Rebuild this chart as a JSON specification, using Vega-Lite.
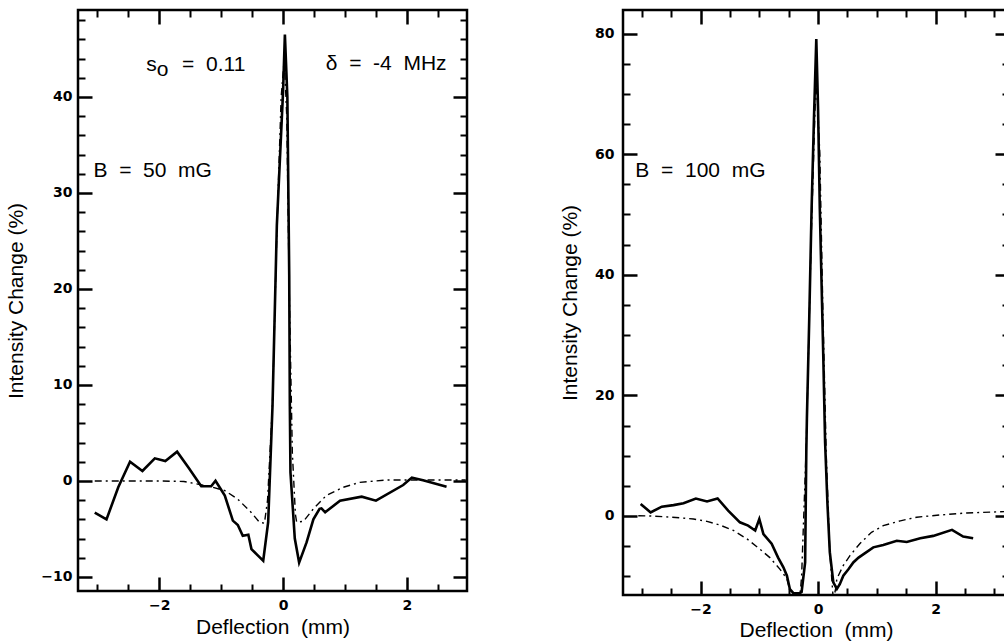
{
  "$schema": "https://vega.github.io/schema/vega-lite/v6.json",
  "padding": {"left": 4, "top": 7, "right": 0, "bottom": 0},
  "autosize": {"type": "pad"},
  "background": "white",
  "config": {
    "view": {"stroke": "black", "strokeWidth": 2.5},
    "axis": {"grid": false, "domain": false, "tickColor": "black", "labelColor": "black", "titleColor": "black", "labelFont": "DejaVu Sans", "labelFontWeight": "bold", "labelFontSize": 14, "titleFont": "Liberation Sans", "titleFontSize": 21, "titleFontWeight": "normal"},
    "text": {"font": "Liberation Sans", "fontSize": 21, "color": "black"}
  },
  "datasets": {
    "exp50": [
      {"x": -3.04, "y": -3.3}, {"x": -2.85, "y": -4.0}, {"x": -2.66, "y": -0.66}, {"x": -2.47, "y": 2.0}, {"x": -2.27, "y": 1.04}, {"x": -2.07, "y": 2.36}, {"x": -1.9, "y": 2.08}, {"x": -1.71, "y": 3.05}, {"x": -1.53, "y": 1.42}, {"x": -1.32, "y": -0.55}, {"x": -1.16, "y": -0.55}, {"x": -1.09, "y": 0.03}, {"x": -0.94, "y": -1.53}, {"x": -0.81, "y": -4.13}, {"x": -0.73, "y": -4.58}, {"x": -0.65, "y": -5.7}, {"x": -0.56, "y": -5.6}, {"x": -0.51, "y": -7.1}, {"x": -0.4, "y": -7.8}, {"x": -0.32, "y": -8.3}, {"x": -0.24, "y": -4.3}, {"x": -0.17, "y": 7.8}, {"x": -0.1, "y": 26.6}, {"x": 0.0, "y": 40.5}, {"x": 0.03, "y": 46.5}, {"x": 0.07, "y": 40}, {"x": 0.1, "y": 21.4}, {"x": 0.11, "y": 7.8}, {"x": 0.12, "y": 0.9}, {"x": 0.19, "y": -6.0}, {"x": 0.26, "y": -8.5}, {"x": 0.38, "y": -6.4}, {"x": 0.49, "y": -4.0}, {"x": 0.59, "y": -2.9}, {"x": 0.62, "y": -2.85}, {"x": 0.68, "y": -3.26}, {"x": 0.92, "y": -2.05}, {"x": 1.27, "y": -1.63}, {"x": 1.5, "y": -2.05}, {"x": 1.94, "y": -0.42}, {"x": 2.08, "y": 0.35}, {"x": 2.26, "y": 0.07}, {"x": 2.64, "y": -0.59}
    ],
    "th50": [
      {"x": -3.04, "y": 0}, {"x": -2.5, "y": 0}, {"x": -2.0, "y": 0}, {"x": -1.6, "y": -0.05}, {"x": -1.4, "y": -0.3}, {"x": -1.2, "y": -0.55}, {"x": -0.94, "y": -1.0}, {"x": -0.73, "y": -1.9}, {"x": -0.51, "y": -3.3}, {"x": -0.38, "y": -4.3}, {"x": -0.3, "y": -4.4}, {"x": -0.25, "y": -2}, {"x": -0.17, "y": 8}, {"x": -0.1, "y": 26}, {"x": -0.03, "y": 40}, {"x": 0.02, "y": 44}, {"x": 0.06, "y": 38}, {"x": 0.1, "y": 20}, {"x": 0.15, "y": 3}, {"x": 0.2, "y": -3.5}, {"x": 0.22, "y": -4.3}, {"x": 0.33, "y": -4.2}, {"x": 0.49, "y": -2.9}, {"x": 0.7, "y": -1.5}, {"x": 0.97, "y": -0.66}, {"x": 1.24, "y": -0.14}, {"x": 1.67, "y": 0.1}, {"x": 2.2, "y": 0.1}, {"x": 2.95, "y": 0.1}
    ],
    "exp100": [
      {"x": -3.02, "y": 2.0}, {"x": -2.85, "y": 0.6}, {"x": -2.66, "y": 1.55}, {"x": -2.46, "y": 1.8}, {"x": -2.29, "y": 2.1}, {"x": -2.08, "y": 2.9}, {"x": -1.89, "y": 2.4}, {"x": -1.71, "y": 2.9}, {"x": -1.53, "y": 0.9}, {"x": -1.33, "y": -1.05}, {"x": -1.19, "y": -1.6}, {"x": -1.07, "y": -2.4}, {"x": -1.0, "y": -0.5}, {"x": -0.93, "y": -3.0}, {"x": -0.79, "y": -4.6}, {"x": -0.68, "y": -6.9}, {"x": -0.59, "y": -8.5}, {"x": -0.53, "y": -9.9}, {"x": -0.48, "y": -12.1}, {"x": -0.42, "y": -12.8}, {"x": -0.31, "y": -12.8}, {"x": -0.28, "y": -12.6}, {"x": -0.22, "y": -7.7}, {"x": -0.2, "y": 10.6}, {"x": -0.19, "y": 16.1}, {"x": -0.15, "y": 32.7}, {"x": -0.11, "y": 50.9}, {"x": -0.07, "y": 65.8}, {"x": -0.03, "y": 79.1}, {"x": 0.0, "y": 67.5}, {"x": 0.03, "y": 50.9}, {"x": 0.09, "y": 26}, {"x": 0.12, "y": 12.2}, {"x": 0.16, "y": 2}, {"x": 0.2, "y": -6.0}, {"x": 0.26, "y": -11.0}, {"x": 0.32, "y": -12.1}, {"x": 0.37, "y": -11.3}, {"x": 0.43, "y": -9.9}, {"x": 0.52, "y": -8.8}, {"x": 0.6, "y": -7.7}, {"x": 0.69, "y": -6.9}, {"x": 0.94, "y": -5.2}, {"x": 1.11, "y": -4.8}, {"x": 1.34, "y": -4.1}, {"x": 1.51, "y": -4.3}, {"x": 1.74, "y": -3.7}, {"x": 1.96, "y": -3.3}, {"x": 2.28, "y": -2.3}, {"x": 2.47, "y": -3.4}, {"x": 2.64, "y": -3.7}
    ],
    "th100": [
      {"x": -3.06, "y": 0.05}, {"x": -2.86, "y": 0}, {"x": -2.49, "y": -0.2}, {"x": -2.12, "y": -0.5}, {"x": -1.89, "y": -0.9}, {"x": -1.67, "y": -1.5}, {"x": -1.44, "y": -2.4}, {"x": -1.21, "y": -3.8}, {"x": -0.99, "y": -5.5}, {"x": -0.82, "y": -6.9}, {"x": -0.65, "y": -8.8}, {"x": -0.53, "y": -10.4}, {"x": -0.48, "y": -12.3}, {"x": -0.42, "y": -15}, {"x": -0.35, "y": -18}, {"x": -0.28, "y": -10}, {"x": -0.2, "y": 12}, {"x": -0.12, "y": 45}, {"x": -0.05, "y": 68}, {"x": -0.02, "y": 71}, {"x": 0.03, "y": 60}, {"x": 0.08, "y": 35}, {"x": 0.14, "y": 10}, {"x": 0.2, "y": -6}, {"x": 0.26, "y": -14}, {"x": 0.3, "y": -12}, {"x": 0.32, "y": -10.4}, {"x": 0.43, "y": -8.2}, {"x": 0.54, "y": -6.6}, {"x": 0.71, "y": -4.6}, {"x": 0.91, "y": -2.7}, {"x": 1.11, "y": -1.6}, {"x": 1.4, "y": -0.8}, {"x": 1.68, "y": -0.2}, {"x": 2.08, "y": 0.17}, {"x": 2.53, "y": 0.5}, {"x": 3.1, "y": 0.7}, {"x": 3.25, "y": 0.75}
    ],
    "lab50": [
      {"x": -2.21, "y": 42.7, "t": "s"},
      {"x": -2.04, "y": 42.2, "t": "o"},
      {"x": -1.63, "y": 42.7, "t": "=\u00a0\u00a00.11"},
      {"x": 0.69, "y": 42.8, "t": "δ\u00a0\u00a0=\u00a0\u00a0-4\u00a0\u00a0MHz"},
      {"x": -3.06, "y": 31.7, "t": "B\u00a0\u00a0=\u00a0\u00a050\u00a0\u00a0mG"}
    ],
    "lab100": [
      {"x": -3.11, "y": 56.2, "t": "B\u00a0\u00a0=\u00a0\u00a0100\u00a0\u00a0mG"}
    ]
  },
  "bounds": "flush",
  "spacing": 156,
  "hconcat": [
    {
      "width": 389,
      "height": 581,
      "resolve": {"scale": {"x": "independent", "y": "independent"}},
      "layer": [
        {
          "data": {"name": "exp50"},
          "mark": {"type": "line", "color": "black", "strokeWidth": 2.6, "clip": true},
          "encoding": {
            "x": {"field": "x", "type": "quantitative", "scale": {"domain": [-3.31, 2.97], "nice": false, "zero": false}, "axis": {"orient": "bottom", "values": [-2, 0, 2], "ticks": false, "labelPadding": 7, "title": "Deflection\u00a0\u00a0(mm)", "titlePadding": 4}},
            "y": {"field": "y", "type": "quantitative", "scale": {"domain": [-11.46, 49.06], "nice": false, "zero": false}, "axis": {"orient": "left", "values": [-10, 0, 10, 20, 30, 40], "ticks": false, "labelPadding": 6, "title": "Intensity Change (%)", "titlePadding": 14}}
          }
        },
        {
          "data": {"name": "th50"},
          "mark": {"type": "line", "color": "black", "strokeWidth": 1.4, "strokeDash": [7, 4, 2, 4], "clip": true},
          "encoding": {
            "x": {"field": "x", "type": "quantitative", "scale": {"domain": [-3.31, 2.97], "nice": false, "zero": false}, "axis": {"orient": "bottom", "values": [-2, 0, 2], "labels": false, "tickSize": -14, "tickWidth": 2.5, "title": null}},
            "y": {"field": "y", "type": "quantitative", "scale": {"domain": [-11.46, 49.06], "nice": false, "zero": false}, "axis": {"orient": "left", "values": [-10, 0, 10, 20, 30, 40], "labels": false, "tickSize": -14, "tickWidth": 2.5, "title": null}}
          }
        },
        {
          "data": {"name": "exp50"},
          "mark": {"type": "line", "opacity": 0},
          "encoding": {
            "x": {"field": "x", "type": "quantitative", "scale": {"domain": [-3.31, 2.97], "nice": false, "zero": false}, "axis": {"orient": "bottom", "values": [-3, -2.5, -1.5, -1, -0.5, 0.5, 1, 1.5, 2.5], "labels": false, "tickSize": -7, "tickWidth": 2, "title": null}},
            "y": {"field": "y", "type": "quantitative", "scale": {"domain": [-11.46, 49.06], "nice": false, "zero": false}, "axis": {"orient": "left", "values": [-8, -6, -4, -2, 2, 4, 6, 8, 12, 14, 16, 18, 22, 24, 26, 28, 32, 34, 36, 38, 42, 44, 46, 48], "labels": false, "tickSize": -7, "tickWidth": 2, "title": null}}
          }
        },
        {
          "data": {"name": "exp50"},
          "mark": {"type": "line", "opacity": 0},
          "encoding": {
            "x": {"field": "x", "type": "quantitative", "scale": {"domain": [-3.31, 2.97], "nice": false, "zero": false}, "axis": {"orient": "top", "values": [-2, 0, 2], "labels": false, "tickSize": -14, "tickWidth": 2.5, "title": null}},
            "y": {"field": "y", "type": "quantitative", "scale": {"domain": [-11.46, 49.06], "nice": false, "zero": false}, "axis": {"orient": "right", "values": [-10, 0, 10, 20, 30, 40], "labels": false, "tickSize": -14, "tickWidth": 2.5, "title": null}}
          }
        },
        {
          "data": {"name": "exp50"},
          "mark": {"type": "line", "opacity": 0},
          "encoding": {
            "x": {"field": "x", "type": "quantitative", "scale": {"domain": [-3.31, 2.97], "nice": false, "zero": false}, "axis": {"orient": "top", "values": [-3, -2.5, -1.5, -1, -0.5, 0.5, 1, 1.5, 2.5], "labels": false, "tickSize": -7, "tickWidth": 2, "title": null}},
            "y": {"field": "y", "type": "quantitative", "scale": {"domain": [-11.46, 49.06], "nice": false, "zero": false}, "axis": {"orient": "right", "values": [-8, -6, -4, -2, 2, 4, 6, 8, 12, 14, 16, 18, 22, 24, 26, 28, 32, 34, 36, 38, 42, 44, 46, 48], "labels": false, "tickSize": -7, "tickWidth": 2, "title": null}}
          }
        },
        {
          "data": {"name": "lab50"},
          "mark": {"type": "text", "align": "left", "baseline": "alphabetic"},
          "encoding": {
            "x": {"field": "x", "type": "quantitative", "scale": {"domain": [-3.31, 2.97], "nice": false, "zero": false}, "axis": null},
            "y": {"field": "y", "type": "quantitative", "scale": {"domain": [-11.46, 49.06], "nice": false, "zero": false}, "axis": null},
            "text": {"field": "t"}
          }
        }
      ]
    },
    {
      "width": 386,
      "height": 585,
      "resolve": {"scale": {"x": "independent", "y": "independent"}},
      "layer": [
        {
          "data": {"name": "exp100"},
          "mark": {"type": "line", "color": "black", "strokeWidth": 2.6, "clip": true},
          "encoding": {
            "x": {"field": "x", "type": "quantitative", "scale": {"domain": [-3.32, 3.25], "nice": false, "zero": false}, "axis": {"orient": "bottom", "values": [-2, 0, 2], "ticks": false, "labelPadding": 7, "title": "Deflection\u00a0\u00a0(mm)", "titlePadding": 3}},
            "y": {"field": "y", "type": "quantitative", "scale": {"domain": [-13.1, 83.9], "nice": false, "zero": false}, "axis": {"orient": "left", "values": [0, 20, 40, 60, 80], "ticks": false, "labelPadding": 9, "title": "Intensity Change (%)", "titlePadding": 14}}
          }
        },
        {
          "data": {"name": "th100"},
          "mark": {"type": "line", "color": "black", "strokeWidth": 1.4, "strokeDash": [7, 4, 2, 4], "clip": true},
          "encoding": {
            "x": {"field": "x", "type": "quantitative", "scale": {"domain": [-3.32, 3.25], "nice": false, "zero": false}, "axis": {"orient": "bottom", "values": [-2, 0, 2], "labels": false, "tickSize": -14, "tickWidth": 2.5, "title": null}},
            "y": {"field": "y", "type": "quantitative", "scale": {"domain": [-13.1, 83.9], "nice": false, "zero": false}, "axis": {"orient": "left", "values": [0, 20, 40, 60, 80], "labels": false, "tickSize": -14, "tickWidth": 2.5, "title": null}}
          }
        },
        {
          "data": {"name": "exp100"},
          "mark": {"type": "line", "opacity": 0},
          "encoding": {
            "x": {"field": "x", "type": "quantitative", "scale": {"domain": [-3.32, 3.25], "nice": false, "zero": false}, "axis": {"orient": "bottom", "values": [-3, -2.5, -1.5, -1, -0.5, 0.5, 1, 1.5, 2.5, 3], "labels": false, "tickSize": -7, "tickWidth": 2, "title": null}},
            "y": {"field": "y", "type": "quantitative", "scale": {"domain": [-13.1, 83.9], "nice": false, "zero": false}, "axis": {"orient": "left", "values": [-10, -5, 5, 10, 15, 25, 30, 35, 45, 50, 55, 65, 70, 75], "labels": false, "tickSize": -7, "tickWidth": 2, "title": null}}
          }
        },
        {
          "data": {"name": "exp100"},
          "mark": {"type": "line", "opacity": 0},
          "encoding": {
            "x": {"field": "x", "type": "quantitative", "scale": {"domain": [-3.32, 3.25], "nice": false, "zero": false}, "axis": {"orient": "top", "values": [-2, 0, 2], "labels": false, "tickSize": -14, "tickWidth": 2.5, "title": null}},
            "y": {"field": "y", "type": "quantitative", "scale": {"domain": [-13.1, 83.9], "nice": false, "zero": false}, "axis": {"orient": "right", "values": [0, 20, 40, 60, 80], "labels": false, "tickSize": -14, "tickWidth": 2.5, "title": null}}
          }
        },
        {
          "data": {"name": "exp100"},
          "mark": {"type": "line", "opacity": 0},
          "encoding": {
            "x": {"field": "x", "type": "quantitative", "scale": {"domain": [-3.32, 3.25], "nice": false, "zero": false}, "axis": {"orient": "top", "values": [-3, -2.5, -1.5, -1, -0.5, 0.5, 1, 1.5, 2.5, 3], "labels": false, "tickSize": -7, "tickWidth": 2, "title": null}},
            "y": {"field": "y", "type": "quantitative", "scale": {"domain": [-13.1, 83.9], "nice": false, "zero": false}, "axis": {"orient": "right", "values": [-10, -5, 5, 10, 15, 25, 30, 35, 45, 50, 55, 65, 70, 75], "labels": false, "tickSize": -7, "tickWidth": 2, "title": null}}
          }
        },
        {
          "data": {"name": "lab100"},
          "mark": {"type": "text", "align": "left", "baseline": "alphabetic"},
          "encoding": {
            "x": {"field": "x", "type": "quantitative", "scale": {"domain": [-3.32, 3.25], "nice": false, "zero": false}, "axis": null},
            "y": {"field": "y", "type": "quantitative", "scale": {"domain": [-13.1, 83.9], "nice": false, "zero": false}, "axis": null},
            "text": {"field": "t"}
          }
        }
      ]
    }
  ]
}
